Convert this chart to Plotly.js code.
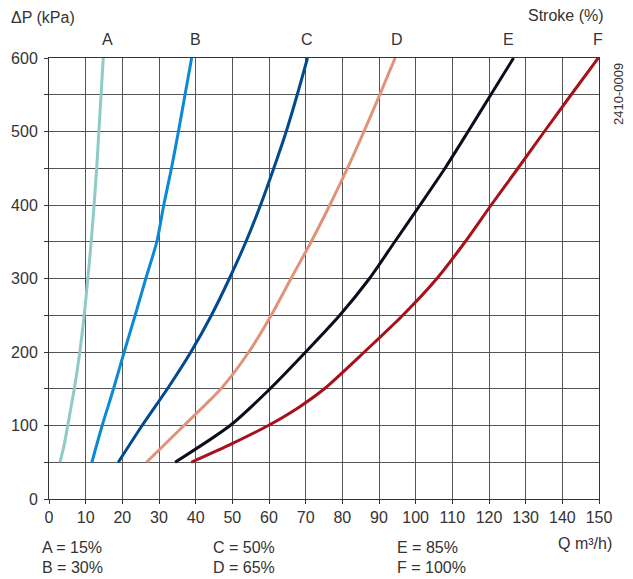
<!DOCTYPE html>
<html>
<head>
<meta charset="utf-8">
<script src="https://cdn.plot.ly/plotly-3.0.1.min.js"></script>
<style>html,body{margin:0;padding:0;background:#fff;}#chart{width:633px;height:579px;}</style>
</head>
<body>
<div id="chart"></div>
<script>
// Flow Q (m³/h) and pressure drop ΔP (kPa) for each stroke curve
const aQ = [3.0, 4.2, 5.1, 6.9, 8.4, 9.6, 10.6, 11.5, 12.3, 13.0, 13.6, 14.2, 14.8];
const aP = [50, 75, 100, 150, 200, 250, 300, 350, 400, 450, 500, 550, 600];
const bQ = [11.7, 14.5, 17.6, 20.5, 23.5, 26.4, 29.4, 31.3, 33.4, 35.3, 37.1, 38.9];
const bP = [50, 100, 150, 200, 250, 300, 350, 400, 450, 500, 550, 600];
const cQ = [18.9, 25.4, 32.3, 38.7, 44.3, 49.2, 53.7, 57.7, 61.3, 64.7, 67.7, 70.5];
const cP = [50, 100, 150, 200, 250, 300, 350, 400, 450, 500, 550, 600];
const dQ = [26.6, 36.8, 46.9, 54.5, 60.6, 66.0, 71.5, 76.6, 81.4, 85.9, 90.2, 94.4];
const dP = [50, 100, 150, 200, 250, 300, 350, 400, 450, 500, 550, 600];
const eQ = [34.4, 49.4, 60.3, 70.0, 79.3, 87.4, 94.3, 101.2, 108.0, 114.3, 120.5, 126.7];
const eP = [50, 100, 150, 200, 250, 300, 350, 400, 450, 500, 550, 600];
const fQ = [38.8, 49.8, 59.8, 68.2, 75.1, 86.0, 96.5, 105.8, 113.5, 120.6, 127.9, 135.1, 142.4, 149.8];
const fP = [50, 75, 100, 125, 150, 200, 250, 300, 350, 400, 450, 500, 550, 600];

const curveNames = ['A', 'B', 'C', 'D', 'E', 'F'];
const strokePct = ['15%', '30%', '50%', '65%', '85%', '100%'];
const curveColors = ['#8ecbc4', '#0a8ad6', '#004a8f', '#e0937a', '#0c0c1c', '#a8101a'];
const xTicks = [0, 10, 20, 30, 40, 50, 60, 70, 80, 90, 100, 110, 120, 130, 140, 150];
const yTicks = [0, 50, 100, 150, 200, 250, 300, 350, 400, 450, 500, 550, 600];
const yTickText = ['0', '', '100', '', '200', '', '300', '', '400', '', '500', '', '600'];

const qs = [aQ, bQ, cQ, dQ, eQ, fQ];
const ps = [aP, bP, cP, dP, eP, fP];

const font = "'Liberation Sans', Arial, sans-serif";
const txt = '#333333';
const fs = 16;

const traces = qs.map((q, i) => ({
  x: q, y: ps[i], type: 'scatter', mode: 'lines', name: curveNames[i],
  line: {color: curveColors[i], width: 3, shape: 'spline', smoothing: 0.7},
  hoverinfo: 'skip', cliponaxis: false
}));

const annotations = [];
const P = (px) => (px - 49) / 550;
const Q = (py) => (499 - py) / 441;
// Curve letters above the top of each curve
const letterPx = [107, 195, 307, 397, 509, 598];
curveNames.forEach((n, i) => {
  annotations.push({x: P(letterPx[i]), y: Q(40), xref: 'paper', yref: 'paper', xanchor: 'center', yanchor: 'middle',
    text: n, showarrow: false, font: {family: font, size: fs, color: txt}});
});
annotations.push({x: P(9), y: Q(18), xref: 'paper', yref: 'paper', xanchor: 'left', yanchor: 'middle',
  text: 'ΔP (kPa)', showarrow: false, font: {family: font, size: fs, color: txt}});
annotations.push({x: P(606), y: Q(16), xref: 'paper', yref: 'paper', xanchor: 'right', yanchor: 'middle',
  text: 'Stroke (%)', showarrow: false, font: {family: font, size: fs, color: txt}});
annotations.push({x: P(618), y: Q(94), xref: 'paper', yref: 'paper', xanchor: 'center', yanchor: 'middle',
  text: '2410-0009', textangle: -90, showarrow: false, font: {family: font, size: 13, color: txt}});
annotations.push({x: P(614), y: Q(543), xref: 'paper', yref: 'paper', xanchor: 'right', yanchor: 'middle',
  text: 'Q m³/h)', showarrow: false, font: {family: font, size: fs, color: txt}});
const legX = [40, 40, 211, 211, 395, 395];
const legY = [547, 567, 547, 567, 547, 567];
curveNames.forEach((n, i) => {
  annotations.push({x: P(legX[i]), y: Q(legY[i]), xref: 'paper', yref: 'paper', xanchor: 'left', yanchor: 'middle',
    text: n + ' = ' + strokePct[i], showarrow: false, font: {family: font, size: fs, color: txt}});
});

const layout = {
  width: 633, height: 579,
  margin: {l: 49, r: 34, t: 58, b: 80, pad: 0},
  paper_bgcolor: '#ffffff', plot_bgcolor: '#ffffff',
  showlegend: false,
  font: {family: font, size: fs, color: txt},
  xaxis: {
    range: [0, 150], tickvals: xTicks, ticktext: xTicks.map(String),
    showgrid: true, gridcolor: '#555555', gridwidth: 1,
    showline: true, linecolor: '#333333', linewidth: 1, mirror: true,
    ticks: 'outside', ticklen: 4, tickcolor: '#333333',
    tickfont: {family: font, size: fs, color: txt}, zeroline: false, fixedrange: true
  },
  yaxis: {
    range: [0, 600], tickvals: yTicks, ticktext: yTickText,
    showgrid: true, gridcolor: '#555555', gridwidth: 1,
    showline: true, linecolor: '#333333', linewidth: 1, mirror: true,
    ticks: 'outside', ticklen: 4, tickcolor: '#333333', ticklabelstandoff: 3,
    tickfont: {family: font, size: fs, color: txt}, zeroline: false, fixedrange: true
  },
  annotations: annotations
};

Plotly.newPlot('chart', traces, layout, {displayModeBar: false, staticPlot: true});
</script>
</body>
</html>
